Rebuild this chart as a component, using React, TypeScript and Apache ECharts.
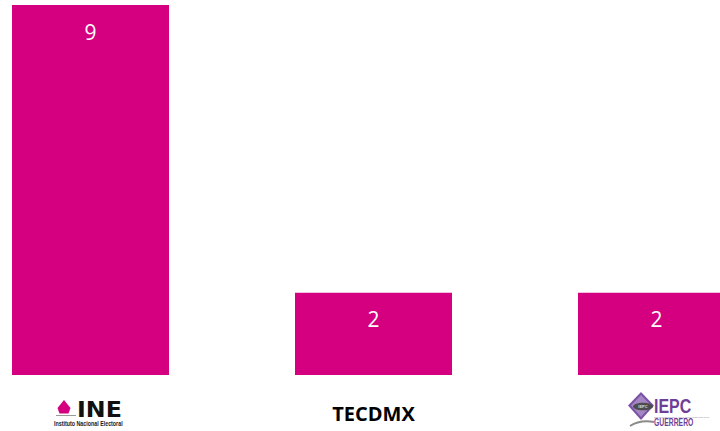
import React, { useEffect, useRef } from "react";
import * as echarts from "echarts";

const categories = ["INE", "TECDMX", "IEPC Guerrero"];
const values = [9, 2, 2];
const axisLabels = ["", "TECDMX", ""];

const MAGENTA = "#D5007F";
const PURPLE = "#6f3f97";

// the chart canvas is wider than the window and shifted left, so the bars are clipped as in the reference
const SHIFT = 51;
const CHART_W = 849;

export default function App() {
  const ref = useRef<HTMLDivElement>(null);

  useEffect(() => {
    if (!ref.current) return;
    const chart = echarts.init(ref.current, null, { renderer: "svg" });
    const X = (x: number) => x + SHIFT;
    chart.setOption({
      animation: false,
      backgroundColor: "#ffffff",
      grid: { left: 0, right: 0, top: 5, bottom: 56, containLabel: false },
      xAxis: {
        type: "category",
        data: categories,
        axisLine: { show: false },
        axisTick: { show: false },
        axisLabel: {
          interval: 0,
          margin: 28,
          color: "#000000",
          fontFamily: "Open Sans",
          fontWeight: "bold",
          fontSize: 20,
          formatter: (_v: string, i: number) => axisLabels[i],
        },
      },
      yAxis: {
        type: "value",
        min: 0,
        max: 9,
        show: false,
        splitLine: { show: false },
      },
      series: [
        {
          type: "bar",
          data: values,
          barWidth: 157,
          itemStyle: { color: MAGENTA },
          label: {
            show: true,
            position: "insideTop",
            distance: 16,
            color: "#ffffff",
            fontFamily: "Open Sans",
            fontSize: 21,
          },
        },
      ],
      graphic: [
        {
          type: "group",
          children: [
            {
              type: "polygon",
              shape: {
                points: [
                  [X(64), 400],
                  [X(70.5), 408],
                  [X(68.5), 413.5],
                  [X(59.5), 413.5],
                  [X(57.5), 408],
                ],
              },
              style: { fill: MAGENTA },
            },
            {
              type: "line",
              shape: { x1: X(56), y1: 415.5, x2: X(76), y2: 415.5 },
              style: { stroke: "#9a9a9a", lineWidth: 1 },
            },
            {
              type: "text",
              x: X(77),
              y: 409.5,
              scaleX: 1.13,
              style: {
                text: "INE",
                fill: "#111111",
                fontFamily: "DejaVu Sans",
                fontWeight: "bold",
                fontSize: 21,
                textAlign: "left",
                textVerticalAlign: "middle",
              },
            },
            {
              type: "text",
              x: X(54),
              y: 424,
              scaleX: 0.82,
              style: {
                text: "Instituto Nacional Electoral",
                fill: "#1a1a1a",
                fontFamily: "Liberation Sans",
                fontWeight: "bold",
                fontSize: 6.5,
                textAlign: "left",
                textVerticalAlign: "middle",
              },
            },
          ],
        },
        {
          type: "group",
          children: [
            {
              type: "polygon",
              shape: {
                points: [
                  [X(641), 392],
                  [X(654), 405.5],
                  [X(641), 420],
                  [X(628), 405.5],
                ],
              },
              style: { fill: "#7c52a6" },
            },
            {
              type: "polygon",
              shape: {
                points: [
                  [X(641), 395],
                  [X(651), 405.5],
                  [X(641), 417],
                  [X(631), 405.5],
                ],
              },
              style: { fill: "#a486c4" },
            },
            {
              type: "ellipse",
              shape: { cx: X(643), cy: 406.5, rx: 10, ry: 3.8 },
              style: { fill: "#4d4d4d" },
            },
            {
              type: "text",
              x: X(643),
              y: 406.5,
              style: {
                text: "IEPC",
                fill: "#dddddd",
                fontFamily: "Liberation Sans",
                fontWeight: "bold",
                fontSize: 4,
                textAlign: "center",
                textVerticalAlign: "middle",
              },
            },
            {
              type: "bezierCurve",
              shape: { x1: X(630), y1: 426, x2: X(654), y2: 422, cpx1: X(640), cpy1: 419.5 },
              style: { stroke: "#8a8a8a", lineWidth: 2, fill: "none" },
            },
            {
              type: "text",
              x: X(654),
              y: 406,
              scaleX: 0.76,
              style: {
                text: "IEPC",
                fill: PURPLE,
                fontFamily: "Liberation Sans",
                fontWeight: "bold",
                fontSize: 21,
                textAlign: "left",
                textVerticalAlign: "middle",
              },
            },
            {
              type: "text",
              x: X(654),
              y: 416.5,
              scaleX: 0.8,
              style: {
                text: "INSTITUTO ELECTORAL Y DE PARTICIPACIÓN CIUDADANA",
                fill: "#8a7a9a",
                fontFamily: "Liberation Sans",
                fontSize: 2.5,
                textAlign: "left",
                textVerticalAlign: "middle",
              },
            },
            {
              type: "text",
              x: X(654),
              y: 422.5,
              scaleX: 0.62,
              style: {
                text: "GUERRERO",
                fill: PURPLE,
                fontFamily: "Liberation Sans",
                fontWeight: "bold",
                fontSize: 11,
                textAlign: "left",
                textVerticalAlign: "middle",
              },
            },
          ],
        },
      ],
    });
    return () => chart.dispose();
  }, []);

  return (
    <div
      style={{
        position: "absolute",
        left: 0,
        top: 0,
        width: 720,
        height: 431,
        overflow: "hidden",
        background: "#ffffff",
      }}
    >
      <div
        ref={ref}
        style={{ position: "absolute", left: -SHIFT, top: 0, width: CHART_W, height: 431 }}
      />
    </div>
  );
}
